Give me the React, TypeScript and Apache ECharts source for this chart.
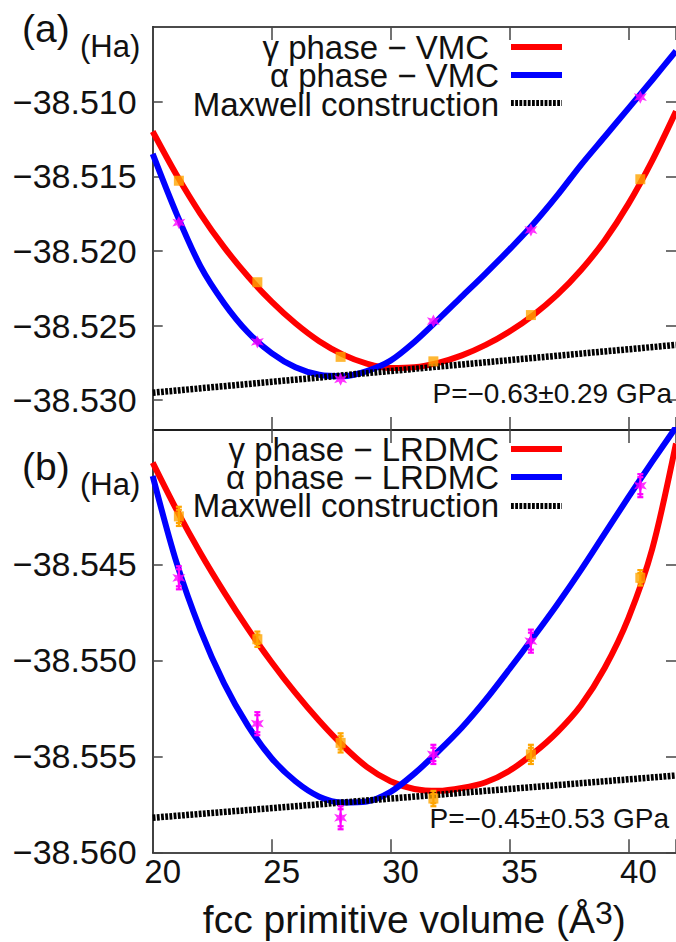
import React, { useEffect, useRef } from 'react';
import * as echarts from 'echarts';

// ---------- data ----------
const volumes = [21.1, 24.4, 27.9, 31.8, 35.9, 40.5];
const vmcGamma = [-38.5153, -38.5221, -38.5271, -38.5274, -38.5243, -38.5152];
const vmcAlpha = [-38.5181, -38.5261, -38.5286, -38.5247, -38.5186, -38.5097];
const lrdmcGamma = [-38.5425, -38.5489, -38.5543, -38.5572, -38.5549, -38.5457];
const lrdmcAlpha = [-38.5457, -38.5533, -38.5582, -38.5549, -38.549, -38.5409];
const lrdmcGammaErr = [0.0005, 0.0004, 0.0005, 0.0004, 0.0005, 0.0004];
const lrdmcAlphaErr = [0.0006, 0.0006, 0.0006, 0.0005, 0.0006, 0.0006];

// fitted curves at every unit of volume
const fitX = [20, 21, 22, 23, 24, 25, 26, 27, 28, 29, 30, 31, 32, 33, 34, 35, 36, 37, 38, 39, 40, 41, 42];
const fitVmcGamma = [-38.512, -38.5149, -38.5175, -38.51975, -38.5217, -38.5234, -38.52485, -38.52605, -38.52695, -38.52755, -38.52785, -38.5278, -38.5275, -38.527, -38.5263, -38.5254, -38.5243, -38.52295, -38.5213, -38.5193, -38.51685, -38.51395, -38.51065];
const fitVmcAlpha = [-38.5135, -38.5175, -38.521, -38.5235, -38.52545, -38.52685, -38.5278, -38.5283, -38.5284, -38.52805, -38.52735, -38.5261, -38.5246, -38.52305, -38.5215, -38.5199, -38.5182, -38.5163, -38.51425, -38.51235, -38.51045, -38.50855, -38.5066];
const fitLrdmcGamma = [-38.5397, -38.54215, -38.5444, -38.54645, -38.54835, -38.5501, -38.5517, -38.55315, -38.55445, -38.55555, -38.5563, -38.5567, -38.5568, -38.55665, -38.55635, -38.55575, -38.55485, -38.55375, -38.55235, -38.5504, -38.5478, -38.5442, -38.5387];
const fitLrdmcAlpha = [-38.5404, -38.5449, -38.5484, -38.5512, -38.5534, -38.5551, -38.5563, -38.5571, -38.5574, -38.55735, -38.55685, -38.5559, -38.55475, -38.5535, -38.55205, -38.55045, -38.5488, -38.5471, -38.5453, -38.5434, -38.5415, -38.53965, -38.53785];

const maxwellX = [20, 42];
const maxwellVmc = [-38.5295, -38.5263];
const maxwellLrdmc = [-38.5582, -38.556];

const xTicks = [20, 25, 30, 35, 40];
const vmcTicks = [-38.53, -38.525, -38.52, -38.515, -38.51];
const lrdmcTicks = [-38.56, -38.555, -38.55, -38.545];

const legendVmc = ['γ phase − VMC', 'α phase − VMC', 'Maxwell construction'];
const legendLrdmc = ['γ phase − LRDMC', 'α phase − LRDMC', 'Maxwell construction'];
const pressureVmc = 'P=−0.63±0.29 GPa';
const pressureLrdmc = 'P=−0.45±0.53 GPa';
const xName = 'fcc primitive volume (Å';

// ---------- helpers ----------
const FONT = 'Liberation Sans, Arial, Helvetica, sans-serif';
const RED = '#ff0000';
const BLUE = '#0000ff';
const ORANGE = '#ffa500';
const MAGENTA = '#ff00ff';
const STAR = 'path://M5,0 L6.4,3 9.6,2 7.6,5 9.6,8 6.4,7 5,10 3.6,7 0.4,8 2.4,5 0.4,2 3.6,3Z';

const zip = (xs: number[], ys: number[]) => xs.map((x, i) => [x, ys[i]]);
const fmtY = (v: number) => '\u2212' + Math.abs(v).toFixed(3);

function xAxis(gridIndex: number, position: 'top' | 'bottom', labels: boolean, extra: any = {}) {
  return {
    type: 'value',
    gridIndex,
    position,
    min: 20,
    max: 42,
    interval: 5,
    axisLine: { show: true, onZero: false, lineStyle: { color: '#111', width: 1.6 } },
    axisTick: { show: true, inside: true, length: 13, lineStyle: { color: '#444', width: 1.5 } },
    axisLabel: labels
      ? { show: true, fontSize: 33, fontFamily: FONT, color: '#111', margin: 3, padding: [0, 0, 0, 20], customValues: xTicks }
      : { show: false },
    splitLine: { show: false },
    ...extra,
  };
}

function yAxis(gridIndex: number, position: 'left' | 'right', min: number, max: number, ticks: number[], labels: boolean) {
  return {
    type: 'value',
    gridIndex,
    position,
    min,
    max,
    axisLine: { show: position === 'left', onZero: false, lineStyle: { color: '#111', width: 1.6 } },
    axisTick: { show: true, inside: true, length: 10, customValues: ticks, lineStyle: { color: '#444', width: 1.5 } },
    axisLabel: labels
      ? { show: true, fontSize: 34, fontFamily: FONT, color: '#111', margin: 16, customValues: ticks, formatter: fmtY }
      : { show: false },
    splitLine: { show: false },
  };
}

function lineSeries(xi: number, yi: number, data: number[][], color: string, dash?: number[]) {
  return {
    type: 'line',
    xAxisIndex: xi,
    yAxisIndex: yi,
    data,
    smooth: dash ? false : 0.3,
    symbol: 'none',
    lineStyle: { color, width: dash ? 6.5 : 6, type: dash || 'solid' },
    silent: true,
    z: dash ? 3 : 2,
  };
}

function pointSeries(xi: number, yi: number, ys: number[], color: string, symbol: string, size: number) {
  return {
    type: 'scatter',
    xAxisIndex: xi,
    yAxisIndex: yi,
    data: zip(volumes, ys),
    symbol,
    symbolSize: size,
    itemStyle: { color },
    z: 6,
  };
}

function errorSeries(xi: number, yi: number, ys: number[], errs: number[], color: string) {
  return {
    type: 'custom',
    xAxisIndex: xi,
    yAxisIndex: yi,
    data: volumes.map((v, i) => [v, ys[i] - errs[i], ys[i] + errs[i]]),
    encode: { x: 0, y: [1, 2] },
    z: 5,
    renderItem: (_params: any, api: any) => {
      const p1 = api.coord([api.value(0), api.value(1)]);
      const p2 = api.coord([api.value(0), api.value(2)]);
      const cap = 3;
      const st = { stroke: color, lineWidth: 2.2 };
      return {
        type: 'group',
        children: [
          { type: 'line', shape: { x1: p1[0], y1: p1[1], x2: p2[0], y2: p2[1] }, style: st },
          { type: 'line', shape: { x1: p1[0] - cap, y1: p1[1], x2: p1[0] + cap, y2: p1[1] }, style: st },
          { type: 'line', shape: { x1: p2[0] - cap, y1: p2[1], x2: p2[0] + cap, y2: p2[1] }, style: st },
          { type: 'line', shape: { x1: p1[0] - cap, y1: p1[1] - 3, x2: p1[0] + cap, y2: p1[1] - 3 }, style: st },
          { type: 'line', shape: { x1: p2[0] - cap, y1: p2[1] + 3, x2: p2[0] + cap, y2: p2[1] + 3 }, style: st },
        ],
      };
    },
  };
}

function txt(text: string, x: number, y: number, size: number, align: string = 'right') {
  return {
    type: 'text',
    x,
    y,
    silent: true,
    z: 10,
    style: { text, fill: '#111', fontSize: size, fontFamily: FONT, align, verticalAlign: 'middle' },
  };
}

function legLine(y: number, color: string, dash?: number[]) {
  return {
    type: 'line',
    silent: true,
    z: 10,
    shape: { x1: 511, y1: y, x2: 562, y2: y },
    style: { stroke: color, lineWidth: 6, lineDash: dash || null },
  };
}

const DASH = [2.8, 1.4];

export default function App() {
  const ref = useRef<HTMLDivElement>(null);
  useEffect(() => {
    if (!ref.current) return;
    const chart = echarts.init(ref.current, undefined, { renderer: 'svg' });
    const option: any = {
      animation: false,
      backgroundColor: '#ffffff',
      textStyle: { fontFamily: FONT },
      grid: [
        { left: 152.7, top: 27, width: 528, height: 403 },
        { left: 152.7, top: 430, width: 528, height: 422.3 },
      ],
      xAxis: [
        xAxis(0, 'bottom', false),
        xAxis(0, 'top', false),
        xAxis(1, 'bottom', true, {
          name: '{n|' + xName + '}{s|3}{n|)}',
          nameLocation: 'middle',
          nameGap: 45,
          nameTextStyle: {
            rich: {
              n: { fontSize: 39, fontFamily: FONT, color: '#111', lineHeight: 44 },
              s: { fontSize: 32, fontFamily: FONT, color: '#111', lineHeight: 26, verticalAlign: 'top' },
            },
          },
        }),
        xAxis(1, 'top', false),
      ],
      yAxis: [
        yAxis(0, 'left', -38.532, -38.505, vmcTicks, true),
        yAxis(0, 'right', -38.532, -38.505, vmcTicks, false),
        yAxis(1, 'left', -38.56, -38.538, lrdmcTicks, true),
        yAxis(1, 'right', -38.56, -38.538, lrdmcTicks, false),
      ],
      series: [
        lineSeries(0, 0, zip(fitX, fitVmcGamma), RED),
        lineSeries(0, 0, zip(fitX, fitVmcAlpha), BLUE),
        lineSeries(0, 0, zip(maxwellX, maxwellVmc), '#000', DASH),
        pointSeries(0, 0, vmcGamma, ORANGE, 'rect', 10),
        pointSeries(0, 0, vmcAlpha, MAGENTA, STAR, 13),

        lineSeries(2, 2, zip(fitX, fitLrdmcGamma), RED),
        lineSeries(2, 2, zip(fitX, fitLrdmcAlpha), BLUE),
        lineSeries(2, 2, zip(maxwellX, maxwellLrdmc), '#000', DASH),
        errorSeries(2, 2, lrdmcGamma, lrdmcGammaErr, ORANGE),
        errorSeries(2, 2, lrdmcAlpha, lrdmcAlphaErr, MAGENTA),
        pointSeries(2, 2, lrdmcGamma, ORANGE, 'rect', 10),
        pointSeries(2, 2, lrdmcAlpha, MAGENTA, STAR, 13),
      ],
      graphic: [
        txt('(a)', 22, 28, 39, 'left'),
        txt('(Ha)', 80, 46, 31, 'left'),
        txt('(b)', 22, 466, 39, 'left'),
        txt('(Ha)', 80, 484, 31, 'left'),

        txt(legendVmc[0], 489, 47, 33),
        txt(legendVmc[1], 499, 75, 33),
        txt(legendVmc[2], 499, 104, 33),
        legLine(47, RED),
        legLine(75, BLUE),
        legLine(103, '#000', DASH),

        txt(legendLrdmc[0], 499, 449, 33),
        txt(legendLrdmc[1], 499, 477, 33),
        txt(legendLrdmc[2], 499, 505, 33),
        legLine(449, RED),
        legLine(477, BLUE),
        legLine(506, '#000', DASH),

        txt(pressureVmc, 672, 393, 28),
        txt(pressureLrdmc, 669, 818, 28),
      ],
    };
    chart.setOption(option);
    return () => chart.dispose();
  }, []);
  return (
    <div
      ref={ref}
      style={{ position: 'absolute', left: 0, top: 0, width: 676, height: 942, background: '#fff' }}
    />
  );
}
